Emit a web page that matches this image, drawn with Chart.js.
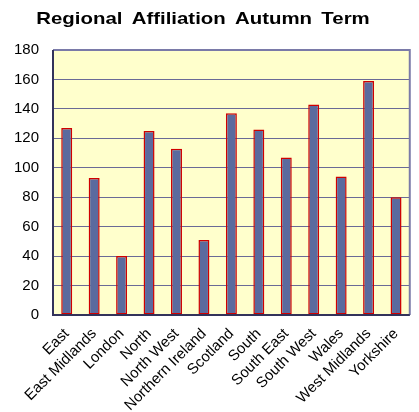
<!DOCTYPE html>
<html>
<head>
<meta charset="utf-8">
<script src="https://cdn.jsdelivr.net/npm/chart.js@4.4.0/dist/chart.umd.min.js"></script>
<style>
  html, body { margin: 0; padding: 0; background: #ffffff; }
  #wrap { width: 419px; height: 412px; }
</style>
</head>
<body>
<div id="wrap"><canvas id="chart" width="419" height="412"></canvas></div>
<script>
// Chart data
const regions = ['East', 'East Midlands', 'London', 'North', 'North West', 'Northern Ireland',
    'Scotland', 'South', 'South East', 'South West', 'Wales', 'West Midlands', 'Yorkshire'];
const affiliations = [127, 93, 40, 125, 113, 51, 137, 126, 107, 143, 94, 159, 80];
const yTicks = [0, 20, 40, 60, 80, 100, 120, 140, 160, 180];
const chartTitle = 'Regional Affiliation Autumn Term';

// Pale yellow plot area, frame round it and a slightly widened title
const plotFrame = {
    id: 'plotFrame',
    beforeDraw(chart) {
        const { ctx, chartArea: a } = chart;
        ctx.save();
        ctx.fillStyle = '#ffffcc';
        ctx.fillRect(a.left, a.top, a.right - a.left, a.bottom - a.top);
        ctx.restore();
    },
    afterDatasetsDraw(chart) {
        const { ctx, chartArea: a } = chart;
        ctx.save();
        ctx.lineWidth = 2;
        ctx.strokeStyle = '#7a7aa8';
        ctx.beginPath();
        ctx.moveTo(a.left, a.top);
        ctx.lineTo(a.right, a.top);
        ctx.lineTo(a.right, a.bottom);
        ctx.stroke();
        ctx.strokeStyle = '#33335a';
        ctx.beginPath();
        ctx.moveTo(a.left, a.top);
        ctx.lineTo(a.left, a.bottom);
        ctx.lineTo(a.right, a.bottom);
        ctx.stroke();
        ctx.restore();
    },
    afterDraw(chart) {
        const { ctx } = chart;
        ctx.save();
        ctx.font = "bold 17px 'Liberation Sans', Arial, sans-serif";
        ctx.wordSpacing = '3px';
        ctx.fillStyle = '#000000';
        ctx.textAlign = 'center';
        ctx.textBaseline = 'middle';
        // the original title font is a little stretched sideways
        ctx.translate(203, 19);
        ctx.scale(1.2, 1);
        ctx.fillText(chartTitle, 0, 0);
        ctx.restore();
    }
};

Chart.defaults.font.family = "'Liberation Sans', Arial, sans-serif";
Chart.defaults.color = '#000000';

new Chart(document.getElementById('chart'), {
    type: 'bar',
    data: {
        labels: regions,
        datasets: [{
            label: 'Affiliations',
            data: affiliations,
            backgroundColor: '#5b6a9e',
            borderColor: '#d00000',
            borderWidth: 1.5,
            borderSkipped: false,
            categoryPercentage: 1,
            barPercentage: 0.4
        }]
    },
    options: {
        responsive: false,
        animation: false,
        layout: { padding: { top: 50, left: 0, right: 6, bottom: 0 } },
        plugins: {
            legend: { display: false },
            tooltip: { enabled: false },
            title: { display: false }
        },
        scales: {
            x: {
                grid: { display: false, drawTicks: false },
                border: { display: false },
                ticks: {
                    font: { size: 15 },
                    minRotation: 45,
                    maxRotation: 45,
                    autoSkip: false,
                    padding: 10
                },
                afterFit(scale) { scale.height = 97; }
            },
            y: {
                min: 0,
                max: 180,
                afterBuildTicks(scale) { scale.ticks = yTicks.map(v => ({ value: v })); },
                grid: { color: '#6a6a96', lineWidth: 1, drawTicks: false },
                border: { display: false },
                ticks: { font: { size: 15 }, padding: 14 },
                afterFit(scale) { scale.width = 53; }
            }
        }
    },
    plugins: [plotFrame]
});
</script>
</body>
</html>
